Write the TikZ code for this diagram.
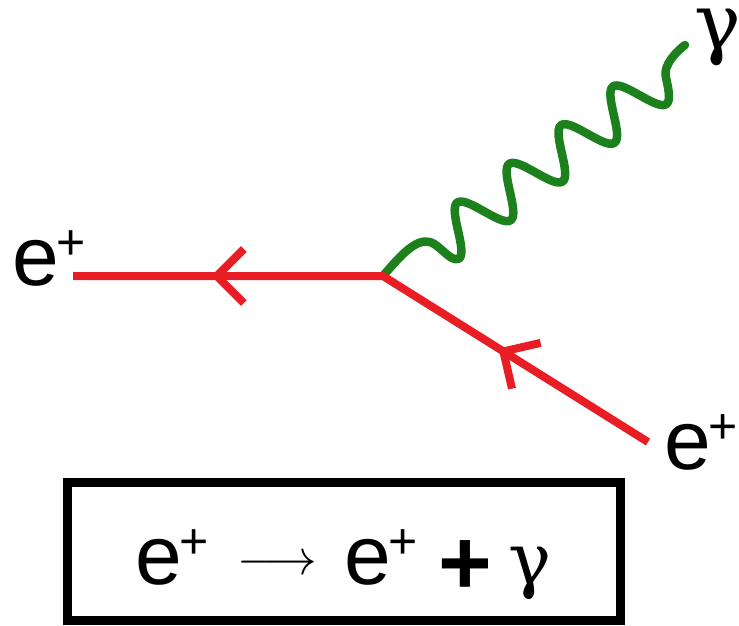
\documentclass[tikz,border=0pt]{standalone}
\usepackage{graphicx}
\usepackage{fontspec}
\setmainfont{Liberation Sans}
\newfontfamily\serifgreek{DejaVu Serif}
\usetikzlibrary{decorations.markings}
\definecolor{fermred}{RGB}{232,30,36}
\definecolor{photgreen}{RGB}{28,128,28}
\newcommand{\posi}{e\kern-2pt\raisebox{26pt}{\fontsize{50}{50}\selectfont +}}
\newcommand{\chev}{\draw[fermred,line width=8pt] (-27pt,27pt) -- (0pt,0pt) -- (-27pt,-27pt);}
\begin{document}
\begin{tikzpicture}[x=1pt,y=-1pt,
  fermion/.style={draw=fermred,line width=8pt,line join=round},
  photon/.style={draw=photgreen,line width=8.5pt,line cap=round,line join=round},
  lbl/.style={inner sep=0pt,anchor=base west,font=\fontsize{84}{84}\selectfont},
  framebox/.style={draw=black,line width=9pt,inner sep=0pt,minimum width=553pt,minimum height=138pt}
]
\useasboundingbox (0,0) rectangle (739,626);
\coordinate (V) at (383,276);
\coordinate (L) at (73,276);
\coordinate (R) at (648,442);
\coordinate (G) at (685,45);
% photon
\draw[photon] (V) .. controls (400,256) and (416,238) .. (430,242)
  .. controls (440,245) and (451.3,263) .. (458.5,258.5)
  -- plot[domain=-17.35:257.6, samples=160, variable=\s]
     ({459+0.802*(\s)-0.598*23*cos(((\s)-15)*5.5641)},
      {230-0.598*(\s)-0.802*23*cos(((\s)-15)*5.5641)})
  .. controls (663.6,65.5) and (675.4,52.2) .. (G);
% fermion line
\draw[fermion, postaction={decorate}, decoration={markings,
   mark=at position 0.274 with {\chev},
   mark=at position 0.769 with {\chev}}]
   (R) -- (V) -- (L);
% labels
\node[lbl] (eL) at (12,285) {\posi};
\node[lbl] (eR) at (664,469) {\posi};
\node[lbl, font=\fontsize{78}{78}\serifgreek] (gam) at (694,50) {γ};
% box
\node[framebox] (box) at (344,551.5) {};
\node[inner sep=0pt, anchor=base west, font=\fontsize{84}{84}\selectfont] (eq) at (135,584)
  {\posi\kern28pt\raisebox{10pt}{\resizebox{80pt}{!}{$\longrightarrow$}}\kern27pt\posi\kern20pt\raisebox{-10pt}{\fontsize{92}{92}\selectfont\textbf{+}}\kern17pt{\fontsize{72}{72}\serifgreek γ}};
\end{tikzpicture}
\end{document}
